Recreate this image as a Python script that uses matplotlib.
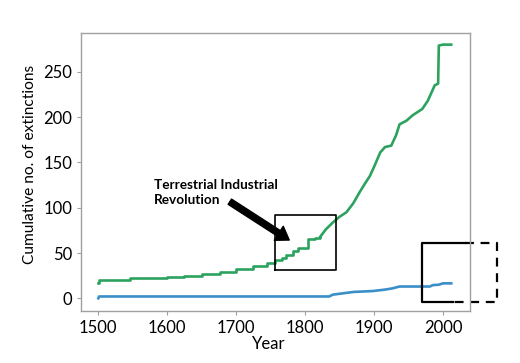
import matplotlib
matplotlib.use('Agg')
import matplotlib.pyplot as plt

plt.rcParams['font.family'] = ['Lato', 'DejaVu Sans']

# cumulative extinctions
# early part of the green series is a staircase, later part a ragged line
green_step_years = [1500, 1501, 1546, 1599, 1625, 1651, 1676, 1700, 1724, 1744,
                    1757, 1766, 1773, 1782, 1790, 1804, 1815, 1822]
green_step_vals = [17, 20, 22, 23, 24.5, 26.5, 29, 32, 35.5, 38.5,
                   42, 44, 48, 52, 55.5, 65, 66.5, 68]
green_years = [1822, 1830, 1840, 1850, 1860, 1870, 1879, 1888, 1894, 1900, 1909,
               1916, 1925, 1932, 1937, 1947, 1956, 1970, 1978, 1988, 1993,
               1994, 2000, 2012]
green_vals = [68, 76, 83.5, 90, 95, 105, 117, 128, 135, 145, 161,
              167, 168.5, 180, 192, 196, 202, 209, 218, 235, 237,
              279, 280, 280]

blue_years = [1500, 1501, 1835, 1840, 1855, 1870, 1898, 1915, 1927, 1937,
              1981, 1985, 1994, 2000, 2012]
blue_vals = [0, 2, 2, 4, 5.5, 7, 8, 9.5, 11, 13, 13, 14.5, 15, 16.5, 16.5]

x_ticks = [1500, 1600, 1700, 1800, 1900, 2000]
y_ticks = [0, 50, 100, 150, 200, 250]

green = '#2ca25f'
blue = '#3a8fc9'

fig = plt.figure(figsize=(5.2, 3.63), dpi=100)
ax = fig.add_axes([0.1558, 0.1433, 0.748, 0.7667])

ax.plot(green_step_years, green_step_vals, color=green, linewidth=1.9,
        drawstyle='steps-post')
ax.plot(green_years, green_vals, color=green, linewidth=1.9)
ax.plot(blue_years, blue_vals, color=blue, linewidth=1.9)

ax.set_xlim(1474.9, 2039.2)
ax.set_ylim(-14.0, 293.2)
ax.set_xticks(x_ticks)
ax.set_yticks(y_ticks)
ax.tick_params(labelsize=12, color='#a0a0a0', length=3, width=0.8)
for s in ax.spines.values():
    s.set_color('#a0a0a0')
    s.set_linewidth(1)

ax.set_xlabel('Year', fontsize=12, labelpad=1)
ax.xaxis.set_label_coords(0.483, -0.09)
ax.set_ylabel('Cumulative no. of extinctions', fontsize=11.2)
ax.yaxis.set_label_coords(-0.113, 0.527)

# highlight box around the industrial revolution
ax.plot([1756, 1845, 1845, 1756, 1756], [31.2, 31.2, 92, 92, 31.2],
        color='black', linewidth=1.2)

# box at the right, solid part inside and dashed part outside
ax.plot([2032, 1970, 1970, 2014.5], [60.7, 60.7, -4.4, -4.4],
        color='black', linewidth=1.6, clip_on=False)
ax.plot([2032, 2078, 2078, 2014.5], [60.7, 60.7, -4.4, -4.4],
        color='black', linewidth=1.6, linestyle=(0, (4, 3)), clip_on=False)

ax.annotate('', xy=(1777, 64.3), xytext=(1690.8, 106.6),
            arrowprops=dict(facecolor='black', edgecolor='black',
                            width=4.5, headwidth=12, headlength=9))
ax.text(1581.3, 131.5, 'Terrestrial Industrial\nRevolution', fontsize=9.8,
        fontweight='bold', va='top', ha='left', linespacing=1.3)

fig.savefig('out.png', dpi=100)
